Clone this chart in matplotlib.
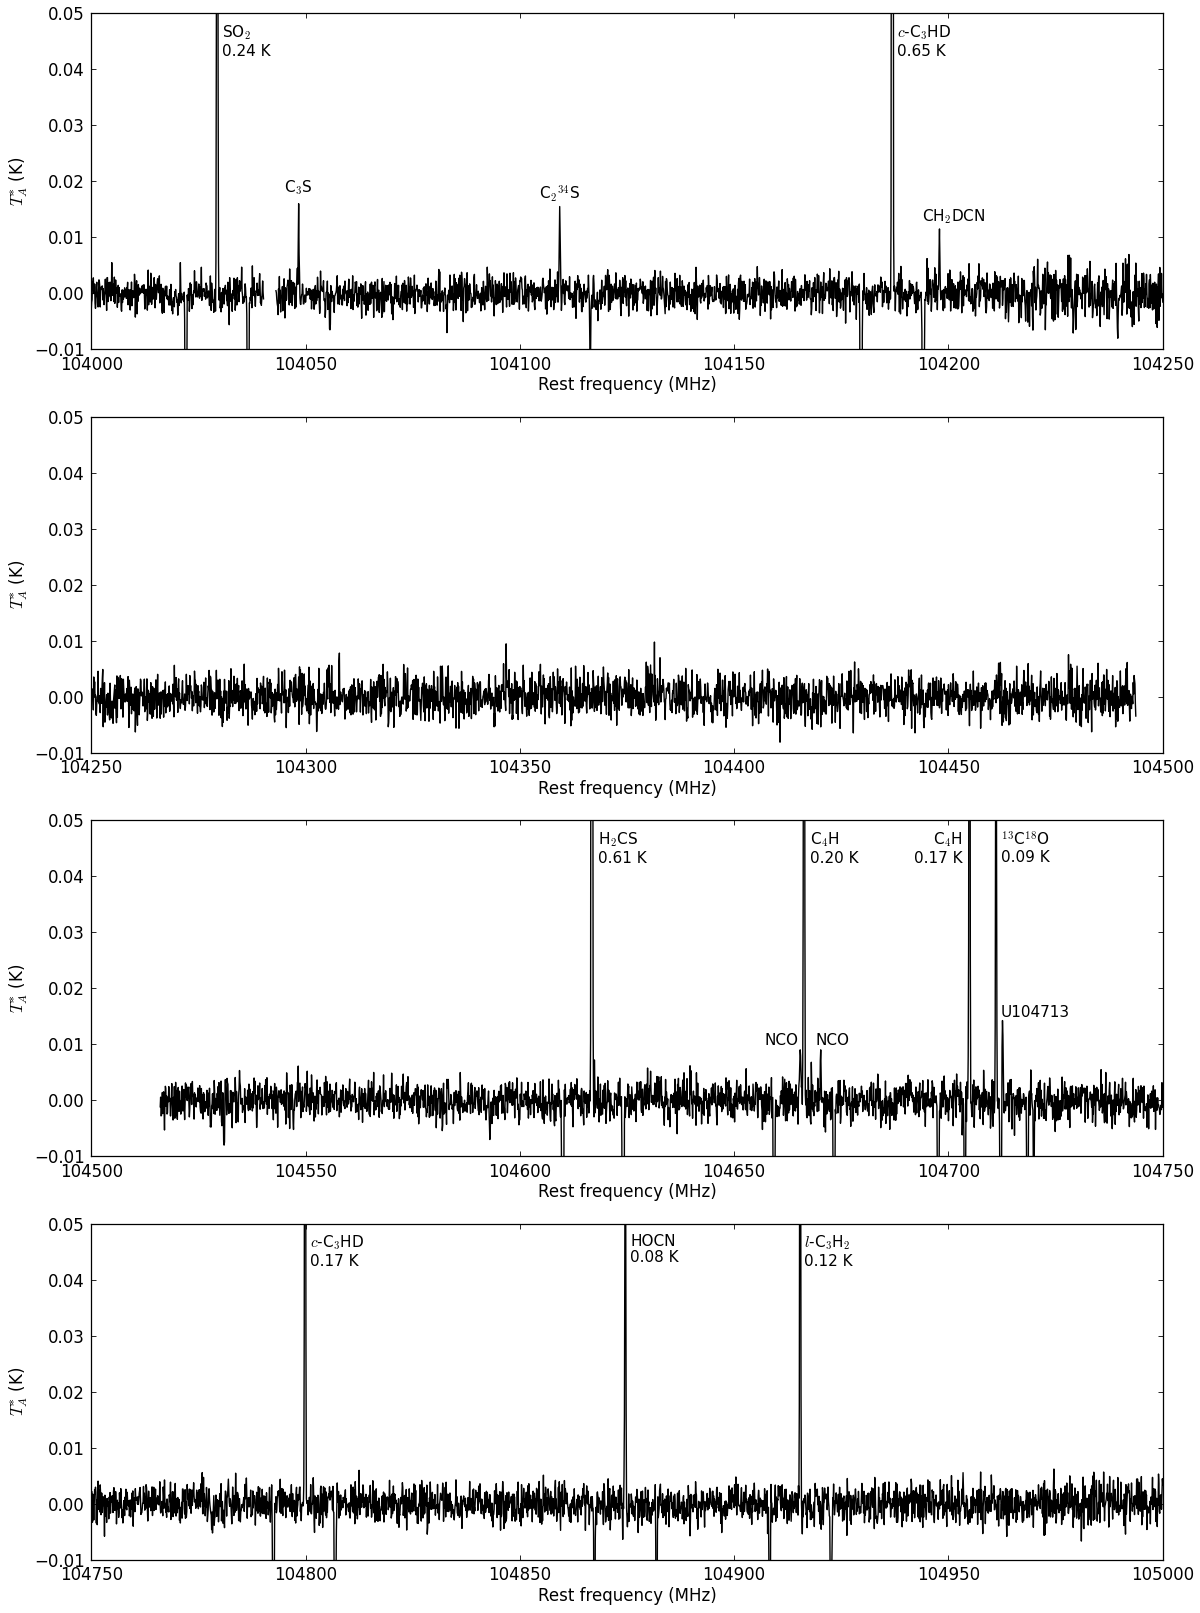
import numpy as np
import matplotlib
matplotlib.use("Agg")
import matplotlib.pyplot as plt
from matplotlib.ticker import FuncFormatter

# ---------------- data ----------------
# panel frequency ranges (MHz) and extent of the recorded data
panel_xlim = [(104000, 104250), (104250, 104500), (104500, 104750), (104750, 105000)]
data_range = [(104000.0, 104250.0), (104250.0, 104493.7), (104516.1, 104750.0), (104750.0, 105000.0)]
data_gaps = [[(104040.3, 104043.1)], [], [], []]
channel_width = 0.1      # MHz
line_fwhm = 0.25         # MHz

# baseline noise rms (K): (start, stop, rms)
noise_rms = [
    [(104000, 104150, 0.0017), (104150, 104212, 0.0018), (104212, 104250.1, 0.0026)],
    [(104250, 104500, 0.0022)],
    [(104500, 104750, 0.0020)],
    [(104750, 105000.1, 0.0020)],
]

# emission lines: frequency (MHz), peak T_A* (K)
line_freq = [
    [104029.4, 104048.4, 104109.3, 104186.9, 104197.9],
    [],
    [104616.8, 104665.4, 104666.3, 104670.2, 104704.9, 104711.1, 104712.6],
    [104799.9, 104874.6, 104915.4],
]
line_peak = [
    [0.24, 0.016, 0.0155, 0.65, 0.0115],
    [],
    [0.61, 0.009, 0.20, 0.009, 0.17, 0.09, 0.0143],
    [0.17, 0.08, 0.12],
]

# negative features (frequency-switching ghosts and deep channels)
dip_freq = [
    [104022.1, 104036.6, 104055.7, 104083.0, 104116.4, 104179.6, 104194.1, 104239.5],
    [],
    [104531.0, 104593.0, 104610.0, 104624.1, 104659.3, 104673.3, 104697.6,
     104703.8, 104712.2, 104718.4, 104719.9],
    [104792.5, 104806.9, 104867.4, 104881.9, 104908.3, 104922.6],
]
dip_depth = [
    [-0.12, -0.12, -0.0065, -0.007, -0.013, -0.325, -0.325, -0.008],
    [],
    [-0.008, -0.007, -0.30, -0.30, -0.10, -0.10, -0.085, -0.045, -0.085, -0.045, -0.015],
    [-0.085, -0.085, -0.04, -0.04, -0.06, -0.06],
]

# labels: x (MHz), y (K), text, ha, va
labels = [
    [(104030.6, 0.0482, "SO$_2$\n0.24 K", "left", "top"),
     (104048.4, 0.0180, "C$_3$S", "center", "baseline"),
     (104109.3, 0.0169, "C$_2$$^{34}$S", "center", "baseline"),
     (104188.1, 0.0482, "$c$-C$_3$HD\n0.65 K", "left", "top"),
     (104201.2, 0.0129, "CH$_2$DCN", "center", "baseline")],
    [],
    [(104618.3, 0.0482, "H$_2$CS\n0.61 K", "left", "top"),
     (104667.6, 0.0482, "C$_4$H\n0.20 K", "left", "top"),
     (104703.4, 0.0482, "C$_4$H\n0.17 K", "right", "top"),
     (104712.3, 0.0482, "$^{13}$C$^{18}$O\n0.09 K", "left", "top"),
     (104664.9, 0.0099, "NCO", "right", "baseline"),
     (104669.0, 0.0099, "NCO", "left", "baseline"),
     (104712.1, 0.0149, "U104713", "left", "baseline")],
    [(104801.0, 0.0482, "$c$-C$_3$HD\n0.17 K", "left", "top"),
     (104875.8, 0.0482, "HOCN\n0.08 K", "left", "top"),
     (104916.4, 0.0482, "$l$-C$_3$H$_2$\n0.12 K", "left", "top")],
]

y_limits = (-0.01, 0.05)
y_ticks = [-0.01, 0.0, 0.01, 0.02, 0.03, 0.04, 0.05]
x_label = "Rest frequency (MHz)"
y_label = "$T^{*}_{A}$ (K)"

# ---------------- style ----------------
plt.rcParams.update({
    "font.family": ["DejaVu Sans"],
    "mathtext.fontset": "cm",
    "font.size": 12,
    "xtick.direction": "in",
    "ytick.direction": "in",
    "xtick.top": True,
    "ytick.right": True,
    "xtick.major.size": 3.5,
    "ytick.major.size": 3.5,
    "xtick.major.width": 0.6,
    "ytick.major.width": 0.6,
    "xtick.major.pad": 4.5,
    "ytick.major.pad": 4.5,
    "axes.linewidth": 0.9,
    "xtick.labelsize": 12,
    "ytick.labelsize": 12,
})

fig, axes = plt.subplots(4, 1, figsize=(12, 16.13), dpi=100)
fig.subplots_adjust(left=0.076, right=0.969, top=0.9918, bottom=0.033, hspace=0.2)

# synthetic baseline noise (instrumental noise cannot be read channel by channel)
rng = np.random.default_rng(104713)

yfmt = FuncFormatter(lambda v, p: ("%.2f" % v).replace("-", "\u2212"))

for i, ax in enumerate(axes):
    x0, x1 = data_range[i]
    x = np.arange(x0, x1 + 1e-6, channel_width)
    rms = np.zeros_like(x)
    for s0, s1, r in noise_rms[i]:
        rms[(x >= s0) & (x < s1)] = r
    noise = rng.normal(0.0, 1.0, x.size) * rms
    sig = line_fwhm / 2.3548
    model = np.zeros_like(x)
    for f, a in zip(line_freq[i] + dip_freq[i], line_peak[i] + dip_depth[i]):
        k = np.argmin(np.abs(x - f))
        model = model + a * np.exp(-0.5 * ((x - x[k]) / sig) ** 2)
        noise[k] = 0.0   # the read peak value already contains the noise
    y = model + noise
    for g0, g1 in data_gaps[i]:
        y[(x > g0) & (x < g1)] = np.nan
    ax.plot(x, y, color="k", lw=1.0)

    ax.set_xlim(*panel_xlim[i])
    ax.set_ylim(*y_limits)
    ax.set_xticks(np.arange(panel_xlim[i][0], panel_xlim[i][1] + 1, 50))
    ax.xaxis.set_major_formatter(FuncFormatter(lambda v, p: "%d" % round(v)))
    ax.set_yticks(y_ticks)
    ax.yaxis.set_major_formatter(yfmt)
    ax.set_xlabel(x_label, fontsize=12, labelpad=2)
    ax.set_ylabel(y_label, fontsize=12, labelpad=3)

    for lx, ly, txt, ha, va in labels[i]:
        ax.text(lx, ly, txt, ha=ha, va=va, fontsize=11, multialignment=ha if ha != "center" else "center",
                linespacing=1.15)

fig.savefig("out.png", dpi=100)
